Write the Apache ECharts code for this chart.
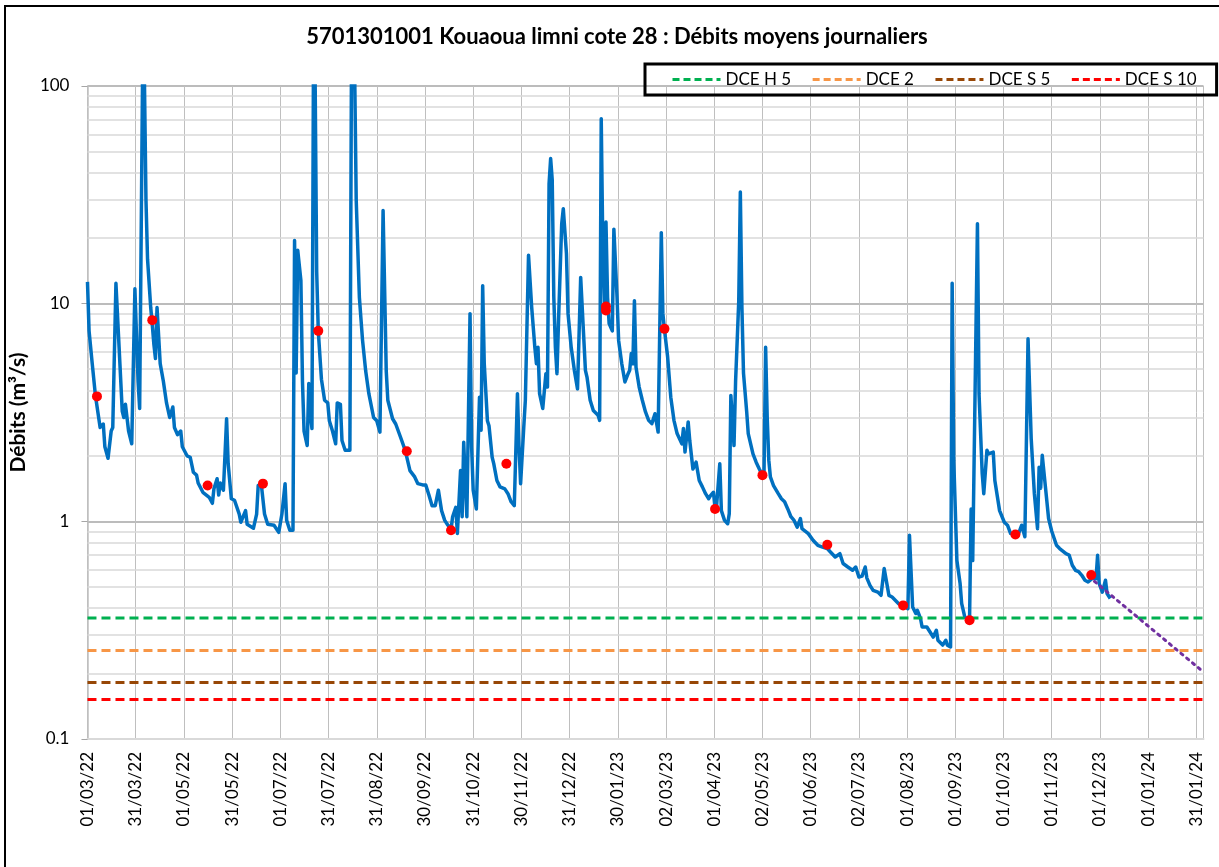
<!DOCTYPE html>
<html>
<head>
<meta charset="utf-8">
<title>Kouaoua limni cote 28</title>
<script src="https://cdn.jsdelivr.net/npm/echarts@6/dist/echarts.min.js"></script>
<style>
  html, body { margin: 0; padding: 0; background: #fff; }
  #chart { width: 1219px; height: 867px; }
</style>
</head>
<body>
<div id="chart"></div>
<script>
// jours comptés depuis le 01/03/22
var xTickLabels = ["01/03/22", "31/03/22", "01/05/22", "31/05/22", "01/07/22", "31/07/22",
  "31/08/22", "30/09/22", "31/10/22", "30/11/22", "31/12/22", "30/01/23", "02/03/23",
  "01/04/23", "02/05/23", "01/06/23", "02/07/23", "01/08/23", "01/09/23", "01/10/23",
  "01/11/23", "01/12/23", "01/01/24", "31/01/24"];

// débits moyens journaliers [jour, m3/s] (sommets et creux relevés)
var debits = [
  [0, 12.6], [1, 7.5], [3, 5.3], [5, 3.8], [8, 2.7], [10, 2.8], [11, 2.2], [13, 1.95], [15, 2.6], [16, 2.7],
  [18, 12.4], [20, 6.3], [22, 3.2], [23, 3.0], [24, 3.45], [26, 2.6], [28, 2.27], [29, 2.25], [30, 11.7],
  [32, 4.4], [33, 3.3], [34, 3.25], [35, 150], [36, 110], [37, 30], [38, 16], [40, 9.6], [41, 8.0], [42, 6.5],
  [43, 5.6], [44, 9.6], [46, 5.3], [48, 4.4], [50, 3.5], [52, 3.0], [54, 3.35], [55, 2.7], [57, 2.5], [59, 2.6],
  [60, 2.2], [63, 2.0], [65, 1.97], [67, 1.68], [69, 1.63], [70, 1.5], [73, 1.36], [77, 1.29], [79, 1.21],
  [80, 1.41], [82, 1.57], [83, 1.32], [84, 1.5], [86, 1.39], [88, 2.96], [89, 1.84], [91, 1.27], [93, 1.25],
  [96, 1.08], [97, 0.99], [98, 0.98], [100, 1.12], [101, 0.97], [105, 0.93], [107, 1.08], [108, 1.46],
  [110, 1.47], [112, 1.08], [114, 0.97], [118, 0.96], [121, 0.89], [123, 1.08], [125, 1.49], [126, 1.01],
  [128, 0.91], [130, 0.91], [131, 19.5], [132, 4.8], [133, 17.6], [135, 12.8], [136, 4.4], [137, 2.6],
  [139, 2.23], [140, 4.3], [141, 3.1], [142, 2.67], [143, 150], [144, 110], [145, 14], [146, 7.5], [148, 4.5],
  [150, 3.6], [152, 3.5], [153, 2.9], [155, 2.6], [157, 2.27], [158, 3.5], [160, 3.45], [161, 2.35],
  [163, 2.12], [166, 2.12], [167, 130], [168, 200], [169, 120], [170, 30], [172, 10.7], [174, 6.8], [176, 4.9],
  [178, 3.86], [181, 3.0], [183, 2.9], [185, 2.57], [186, 2.62], [187, 26.8], [189, 4.9], [190, 3.6],
  [193, 2.96], [195, 2.8], [198, 2.44], [201, 2.12], [204, 1.71], [207, 1.6], [209, 1.49], [212, 1.47],
  [214, 1.47], [216, 1.32], [218, 1.18], [220, 1.18], [222, 1.39], [224, 1.12], [226, 1.01], [228, 0.96],
  [230, 0.92], [231, 1.05], [233, 1.16], [234, 0.88], [236, 1.71], [237, 1.05], [238, 2.31], [239, 1.54],
  [240, 1.05], [242, 9.0], [243, 2.2], [244, 1.39], [246, 1.14], [247, 1.16], [248, 3.72], [249, 2.62],
  [250, 12.1], [251, 5.3], [253, 2.9], [254, 2.75], [256, 1.97], [257, 1.84], [259, 1.54], [261, 1.44],
  [264, 1.41], [266, 1.34], [268, 1.23], [270, 1.18], [272, 3.86], [273, 2.2], [274, 1.49], [276, 2.71],
  [277, 3.6], [279, 16.7], [281, 9.65], [283, 6.3], [284, 5.3], [285, 6.3], [286, 3.86], [288, 3.3],
  [290, 4.77], [291, 4.14], [292, 35.6], [293, 46.4], [294, 37], [295, 10.7], [296, 6.3], [297, 4.77],
  [298, 8.4], [300, 23.3], [301, 27.3], [303, 17], [304, 9.0], [306, 6.3], [308, 4.94], [310, 4.06],
  [311, 7.3], [312, 13.2], [313, 13.0], [315, 4.94], [316, 4.6], [318, 3.6], [320, 3.23], [323, 3.07],
  [324, 2.91], [325, 70.8], [326, 18.2], [327, 9.6], [328, 23.7], [329, 10.7], [330, 8.1], [332, 7.5],
  [333, 22], [335, 10.7], [336, 6.78], [338, 5.3], [340, 4.37], [342, 4.77], [343, 4.94], [344, 5.9],
  [345, 5.3], [346, 10.3], [347, 5.1], [349, 4.14], [351, 3.6], [353, 3.18], [355, 2.91], [357, 2.81],
  [359, 3.12], [360, 3.07], [361, 2.57], [362, 2.52], [363, 21.2], [364, 9.0], [365, 7.6], [367, 5.7],
  [369, 3.72], [371, 2.91], [373, 2.53], [376, 2.27], [377, 2.67], [378, 2.08], [380, 2.86], [381, 2.35],
  [383, 1.74], [385, 1.87], [387, 1.54], [389, 1.44], [391, 1.34], [393, 1.27], [394, 1.31], [396, 1.36],
  [397, 1.15], [398, 1.18], [400, 1.84], [401, 1.12], [403, 1.01], [405, 0.975], [406, 1.085], [407, 3.79],
  [409, 2.23], [410, 4.4], [412, 10.3], [413, 32.6], [414, 9.6], [415, 4.8], [417, 3.2], [418, 2.53],
  [419, 2.48], [421, 2.04], [423, 1.87], [425, 1.74], [427, 1.63], [428, 1.71], [429, 6.3], [430, 3.0],
  [431, 1.91], [432, 1.6], [434, 1.46], [437, 1.34], [439, 1.27], [441, 1.23], [443, 1.14], [445, 1.05],
  [447, 1.01], [449, 0.94], [451, 1.03], [452, 0.925], [456, 0.878], [459, 0.818], [462, 0.776],
  [465, 0.762], [468, 0.75], [470, 0.723], [473, 0.686], [476, 0.71], [478, 0.64], [481, 0.617],
  [484, 0.596], [486, 0.617], [488, 0.555], [490, 0.56], [492, 0.617], [493, 0.55], [495, 0.508],
  [497, 0.482], [500, 0.473], [502, 0.457], [503, 0.457], [504, 0.607], [505, 0.607], [507, 0.457],
  [509, 0.449], [511, 0.434], [513, 0.419], [516, 0.41], [519, 0.397], [520, 0.862], [522, 0.404],
  [524, 0.377], [525, 0.39], [527, 0.357], [528, 0.327], [531, 0.327], [533, 0.31], [535, 0.294],
  [537, 0.316], [538, 0.284], [541, 0.27], [543, 0.284], [544, 0.27], [546, 0.265], [547, 12.4],
  [548, 1.91], [550, 0.66], [552, 0.52], [553, 0.42], [555, 0.363], [558, 0.35], [559, 1.14], [560, 0.66],
  [561, 0.67], [563, 23.3], [564, 3.86], [566, 1.66], [567, 1.34], [569, 2.12], [570, 2.04], [571, 2.08],
  [573, 2.08], [574, 1.54], [577, 1.12], [580, 0.99], [582, 0.96], [584, 0.878], [587, 0.87], [589, 0.878],
  [591, 0.96], [592, 0.96], [593, 0.85], [595, 6.9], [597, 2.4], [599, 1.34], [601, 0.925], [602, 1.77],
  [603, 1.42], [604, 2.01], [606, 1.44], [608, 1.03], [610, 0.9], [613, 0.776], [615, 0.75], [619, 0.71],
  [621, 0.7], [623, 0.628], [625, 0.596], [627, 0.588], [629, 0.565], [631, 0.536], [633, 0.526],
  [636, 0.55], [638, 0.545], [639, 0.698], [640, 0.518], [642, 0.473], [644, 0.536], [645, 0.466],
  [647, 0.442]
];

// jaugeages ponctuels
var mesures = [
  [6, 3.75], [41, 8.4], [76, 1.46], [111, 1.49], [146, 7.5], [202, 2.1], [230, 0.91], [265, 1.84],
  [328, 9.7], [328, 9.3], [365, 7.66], [397, 1.14], [427, 1.63], [468, 0.78], [516, 0.411], [558, 0.351],
  [587, 0.87], [635, 0.567]
];

// tendance de tarissement
var prevision = [[637, 0.53], [706, 0.203]];

// seuils DCE
var seuilNames = ["DCE H 5", "DCE 2", "DCE S 5", "DCE S 10"];
var seuilValues = [0.36, 0.255, 0.182, 0.152];
var seuilColors = ["#00B050", "#F79646", "#974706", "#FF0000"];

// quadrillage secondaire du log
var minorValues = [0.2, 0.3, 0.4, 0.5, 0.6, 0.7, 0.8, 0.9, 2, 3, 4, 5, 6, 7, 8, 9,
  20, 30, 40, 50, 60, 70, 80, 90];

var xMax = 706;
var tickStep = 30.5;

var myChart = echarts.init(document.getElementById("chart"));

var series = [
  {
    name: "grille",
    type: "line",
    data: [],
    z: 1,
    silent: true,
    markLine: {
      silent: true,
      z: 1,
      symbol: "none",
      label: { show: false },
      animation: false,
      lineStyle: { color: "#D9D9D9", width: 1.5, type: "solid" },
      data: minorValues.map(function (v) { return { yAxis: v }; })
    }
  },
  {
    name: "Débits",
    type: "line",
    data: debits,
    symbol: "none",
    z: 3,
    lineStyle: { color: "#0070C0", width: 3.5, join: "round" }
  }
];

seuilNames.forEach(function (n, i) {
  series.push({
    name: n,
    type: "line",
    data: [[0, seuilValues[i]], [xMax, seuilValues[i]]],
    symbol: "none",
    z: 4,
    color: seuilColors[i],
    lineStyle: { color: seuilColors[i], width: 3, type: [9, 5] }
  });
});

series.push({
  name: "Prévision",
  type: "line",
  data: prevision,
  symbol: "none",
  z: 4,
  lineStyle: { color: "#7030A0", width: 3, type: [2.5, 5], cap: "round" }
});

series.push({
  name: "Jaugeages",
  type: "scatter",
  data: mesures,
  symbolSize: 10,
  z: 5,
  itemStyle: { color: "#FF0000", opacity: 1 }
});

myChart.setOption({
  animation: false,
  backgroundColor: "#fff",
  textStyle: { fontFamily: "Lato" },
  graphic: [
    {
      type: "rect",
      shape: { x: 5, y: 6, width: 1240, height: 900 },
      style: { fill: "none", stroke: "#000", lineWidth: 2 },
      silent: true
    }
  ],
  title: {
    text: "5701301001 Kouaoua limni cote 28 : Débits moyens journaliers",
    left: 612,
    top: 21,
    textAlign: "center",
    textStyle: { fontFamily: "Lato", fontWeight: "bold", fontSize: 22, color: "#000" }
  },
  legend: {
    data: seuilNames,
    left: 645,
    top: 64,
    padding: [7, 20, 7, 26],
    borderColor: "#000",
    borderWidth: 3,
    itemWidth: 48,
    itemHeight: 14,
    itemGap: 20,
    itemStyle: { opacity: 0, borderWidth: 0 },
    lineStyle: { width: 3, type: [7, 4] },
    textStyle: { fontFamily: "Lato", fontSize: 17, color: "#000" }
  },
  grid: { left: 85, right: 15.5, top: 86, bottom: 128 },
  xAxis: {
    type: "value",
    min: 0,
    max: xMax,
    interval: tickStep,
    axisLine: { show: true, lineStyle: { color: "#D9D9D9", width: 2 } },
    axisTick: { show: false },
    splitLine: { show: true, lineStyle: { color: "#BFBFBF", width: 1 } },
    axisLabel: {
      rotate: 90,
      margin: 13,
      showMaxLabel: false,
      fontFamily: "Lato",
      fontSize: 17,
      color: "#000",
      formatter: function (v) {
        var i = Math.round(v / tickStep);
        if (Math.abs(v - i * tickStep) > 0.01) return "";
        return xTickLabels[i] || "";
      }
    }
  },
  yAxis: {
    type: "log",
    logBase: 10,
    min: 0.1,
    max: 100,
    name: "Débits (m³/s)",
    nameLocation: "middle",
    nameGap: 44,
    nameTextStyle: { fontFamily: "Lato", fontWeight: "bold", fontSize: 21, color: "#000" },
    axisLine: { show: true, lineStyle: { color: "#BFBFBF", width: 1.5 } },
    axisTick: { show: true, length: 6, lineStyle: { color: "#A6A6A6" } },
    splitLine: { show: true, lineStyle: { color: "#A6A6A6", width: 1.5 } },
    axisLabel: {
      margin: 18,
      fontFamily: "Lato",
      fontSize: 17,
      color: "#000",
      formatter: function (v) { return String(v); }
    }
  },
  series: series
});
</script>
</body>
</html>
